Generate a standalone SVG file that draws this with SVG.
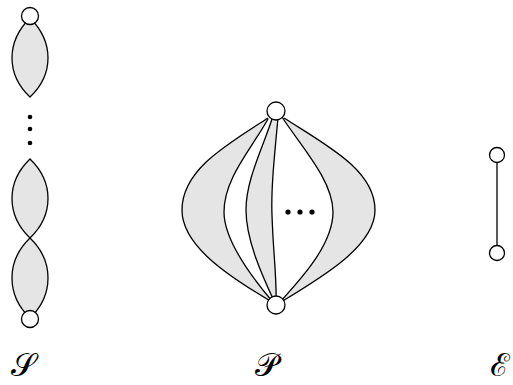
<svg xmlns="http://www.w3.org/2000/svg" width="513" height="385" viewBox="0 0 513 385">
<style>
.edge{stroke:#000;stroke-width:1.3;fill:none}
.lens{stroke:#000;stroke-width:1.3;fill:#e5e5e5}
.gray{fill:#e5e5e5;stroke:none}
.white{fill:#fff;stroke:none}
.node{fill:#fff;stroke:#000;stroke-width:1.3}
.dot{fill:#000}
.lbl{font-family:"DejaVu Serif","Noto Sans",serif;font-size:32px;fill:#000}
</style>
<rect width="513" height="385" fill="#fff"/>
<g id="connectors">
  <!-- S: series -->
  <path class="lens" d="M30,18 C6,42 6,74 30,97 C54,74 54,42 30,18 Z"/>
  <path class="lens" d="M30,159 C6,182 6,215 30,238 C54,215 54,182 30,159 Z"/>
  <path class="lens" d="M30,238 C6,261 6,295 30,318 C54,295 54,261 30,238 Z"/>
  <!-- P: parallel -->
  <path class="gray" d="M268,118 C226,145 182,170 182,210 C182,245 226,275 272,302 L281,302 C326,275 375,245 375,210 C375,170 326,145 284,118 Z"/>
  <path class="white" d="M268,119 C252,148 224,178 224,212 C224,240 250,275 272,301 L280,302 C300,280 333,245 333,212 C333,180 300,145 282,117 Z"/>
  <path class="gray" d="M272,119 C262,150 246,180 246,210 C246,240 262,275 274,301 L276,302 C277,280 273,250 272,215 C271,190 274,160 278,118 Z"/>
  <path class="edge" d="M268,118 C226,145 182,170 182,210 C182,245 226,275 272,302"/>
  <path class="edge" d="M284,118 C326,145 375,170 375,210 C375,245 326,275 281,302"/>
  <path class="edge" d="M268,119 C252,148 224,178 224,212 C224,240 250,275 272,301"/>
  <path class="edge" d="M272,119 C262,150 246,180 246,210 C246,240 262,275 274,301"/>
  <path class="edge" d="M278,118 C274,160 271,190 272,215 C273,250 277,280 276,302"/>
  <path class="edge" d="M282,117 C300,145 333,180 333,212 C333,245 300,280 280,302"/>
  <!-- E: edge -->
  <line class="edge" x1="497" y1="155" x2="497" y2="253"/>
</g>
<g id="S-dots">
  <circle class="dot" cx="30" cy="117" r="2.3"/>
  <circle class="dot" cx="30" cy="129" r="2.3"/>
  <circle class="dot" cx="30" cy="143" r="2.3"/>
</g>
<g id="P-dots">
  <circle class="dot" cx="288" cy="212" r="2.6"/>
  <circle class="dot" cx="300" cy="212" r="2.6"/>
  <circle class="dot" cx="312" cy="212" r="2.6"/>
</g>
<g id="S-top"><circle class="node" cx="30" cy="16" r="8.5"/></g>
<g id="S-bottom"><circle class="node" cx="30" cy="319" r="8.5"/></g>
<g id="P-top"><circle class="node" cx="276" cy="111" r="9"/></g>
<g id="P-bottom"><circle class="node" cx="276" cy="305" r="9"/></g>
<g id="E-top"><circle class="node" cx="497" cy="155" r="7.5"/></g>
<g id="E-bottom"><circle class="node" cx="497" cy="253" r="7.5"/></g>
<g id="labels">
  <text class="lbl" x="23" y="376" text-anchor="middle">𝒮</text>
  <text class="lbl" x="266" y="376" text-anchor="middle">𝒫</text>
  <text class="lbl" x="500" y="376" text-anchor="middle">ℰ</text>
</g>
</svg>
